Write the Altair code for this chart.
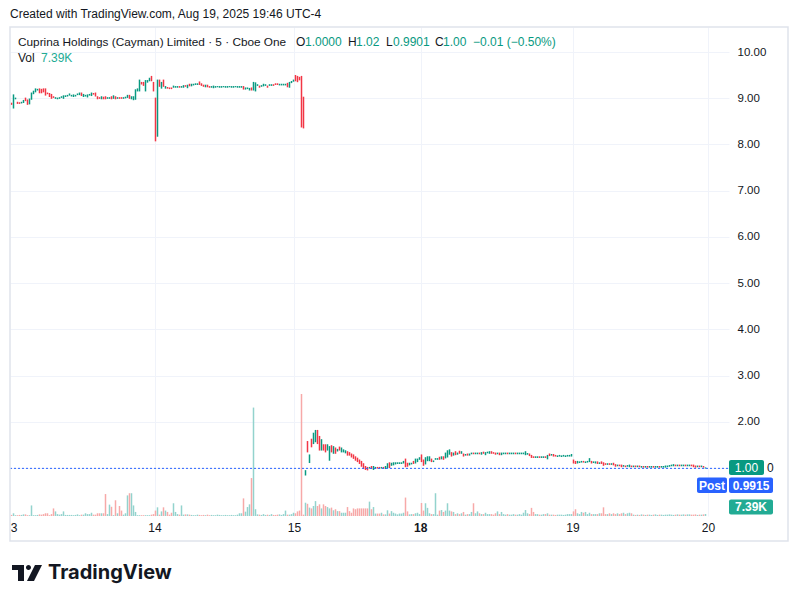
import altair as alt
import pandas as pd

# ---------------- data (5-minute bars) ----------------
# Aug 13
O13 = [8.89, 8.79, 8.99, 8.91, 8.90, 8.90, 8.91, 9.00, 8.96, 8.88,
       8.98, 9.10, 9.14, 9.18, 9.20, 9.19, 9.20, 9.20, 9.11, 9.10,
       9.08, 9.03, 9.00, 8.99, 9.00, 9.02, 9.00, 9.04, 9.05, 9.07,
       9.05, 9.04, 9.05, 9.08, 9.08, 9.11, 9.04, 9.05, 9.03, 9.07,
       9.06, 9.10, 9.11, 9.03, 9.01, 8.99, 9.02, 9.03, 9.00, 9.00,
       9.03, 9.00, 9.03, 9.00, 9.01, 9.01, 9.00, 9.01, 9.02, 9.06,
       8.99, 8.97, 8.98, 9.16, 9.16, 9.34, 9.34, 9.16, 9.35, 9.38,
       9.47, 9.34]
C13 = [8.87, 9.07, 9.00, 8.89, 8.89, 8.91, 8.95, 8.95, 8.87, 8.98,
       9.11, 9.15, 9.20, 9.19, 9.12, 9.12, 9.14, 9.07, 9.10, 9.04,
       9.00, 9.02, 9.01, 9.00, 9.01, 9.03, 9.05, 9.05, 9.06, 9.09,
       9.06, 9.07, 9.06, 9.09, 9.11, 9.06, 9.08, 9.06, 9.07, 9.08,
       9.11, 9.09, 9.05, 8.99, 9.00, 9.03, 8.99, 8.99, 9.01, 9.01,
       8.99, 9.05, 8.99, 9.01, 9.00, 9.00, 9.01, 9.02, 9.06, 9.00,
       9.03, 9.03, 9.18, 9.20, 9.39, 9.31, 9.28, 9.38, 9.38, 9.43,
       9.38, 9.16]
V13 = [4, 10, 3, 3, 4, 4, 6, 6, 3, 3,
       39, 3, 3, 4, 6, 5, 7, 10, 10, 3,
       7, 28, 17, 7, 5, 7, 17, 4, 4, 4,
       4, 3, 4, 6, 3, 5, 5, 10, 7, 7,
       12, 5, 5, 10, 10, 10, 10, 81, 7, 42,
       34, 3, 58, 10, 37, 20, 5, 10, 76, 84,
       84, 39, 15, 3, 3, 3, 3, 3, 3, 3,
       5, 7]

# Aug 14
O14 = [9.00, 8.18, 9.39, 9.22, 9.39, 9.22, 9.23, 9.22, 9.22, 9.24,
       9.24, 9.24, 9.25, 9.24, 9.24, 9.27, 9.23, 9.30, 9.27, 9.29,
       9.30, 9.30, 9.35, 9.31, 9.28, 9.25, 9.28, 9.25, 9.24, 9.23,
       9.24, 9.25, 9.24, 9.24, 9.25, 9.24, 9.24, 9.25, 9.24, 9.24,
       9.25, 9.24, 9.24, 9.24, 9.25, 9.20, 9.21, 9.18, 9.22, 9.18,
       9.16, 9.28, 9.26, 9.26, 9.27, 9.28, 9.26, 9.28, 9.28, 9.29,
       9.31, 9.31, 9.29, 9.29, 9.29, 9.29, 9.32, 9.24, 9.34, 9.37]
C14 = [8.08, 9.39, 9.26, 9.34, 9.26, 9.25, 9.22, 9.21, 9.21, 9.26,
       9.25, 9.25, 9.24, 9.25, 9.27, 9.26, 9.28, 9.27, 9.30, 9.30,
       9.31, 9.31, 9.30, 9.28, 9.26, 9.28, 9.25, 9.24, 9.25, 9.26,
       9.25, 9.25, 9.25, 9.25, 9.25, 9.25, 9.25, 9.25, 9.25, 9.25,
       9.25, 9.25, 9.25, 9.25, 9.20, 9.22, 9.22, 9.21, 9.18, 9.34,
       9.33, 9.29, 9.24, 9.27, 9.30, 9.29, 9.24, 9.29, 9.29, 9.28,
       9.30, 9.30, 9.30, 9.30, 9.30, 9.30, 9.25, 9.34, 9.36, 9.39]
V14 = [20, 32, 5, 17, 32, 20, 15, 5, 12, 47,
       15, 7, 5, 39, 5, 6, 6, 5, 4, 3,
       3, 5, 4, 3, 4, 3, 5, 3, 4, 3,
       3, 5, 4, 3, 3, 4, 3, 3, 4, 3,
       3, 5, 10, 10, 65, 16, 33, 43, 140, 400,
       25, 6, 5, 4, 7, 4, 5, 4, 7, 4,
       4, 5, 6, 4, 7, 20, 5, 5, 7, 12]

# Aug 15
O15 = [9.49, 9.47, 9.45, 9.47, 9.02, 0.85, 1.57, 1.12, 1.62, 1.53,
       1.57, 1.81, 1.68, 1.39, 1.50, 1.50, 1.39, 1.17, 1.48, 1.32,
       1.43, 1.37, 1.45, 1.35, 1.35, 1.33, 1.35, 1.33, 1.30, 1.28,
       1.24, 1.21, 1.17, 1.14, 1.09, 1.03, 1.01, 1.00, 1.03, 0.97,
       1.00, 1.01, 1.01, 1.00, 1.01, 0.99, 1.01, 1.11, 1.06, 1.07,
       1.09, 1.10, 1.10, 1.10, 1.11, 1.19, 1.10, 1.07, 1.09, 1.14,
       1.11, 1.14, 1.19]
C15 = [9.38, 9.36, 9.40, 8.38, 8.36, 0.94, 1.35, 1.28, 1.46, 1.75,
       1.81, 1.53, 1.39, 1.61, 1.39, 1.35, 1.50, 1.46, 1.35, 1.46,
       1.32, 1.40, 1.39, 1.43, 1.39, 1.37, 1.28, 1.28, 1.24, 1.21,
       1.17, 1.14, 1.10, 1.04, 0.99, 0.97, 0.96, 1.01, 0.99, 1.03,
       1.01, 1.00, 1.00, 1.01, 1.00, 1.03, 1.09, 1.01, 1.10, 1.11,
       1.11, 1.11, 1.11, 1.11, 1.14, 1.03, 1.04, 1.10, 1.10, 1.10,
       1.19, 1.19, 1.22]
V15 = [10, 17, 20, 450, 5, 49, 45, 31, 28, 37,
       55, 37, 43, 28, 43, 37, 33, 28, 31, 21,
       25, 18, 18, 12, 12, 12, 33, 18, 12, 28,
       25, 28, 28, 28, 28, 28, 28, 53, 25, 33,
       9, 9, 9, 12, 6, 6, 21, 9, 18, 12,
       9, 6, 9, 9, 12, 68, 17, 6, 7, 7,
       10, 12, 7]

# Aug 18
O18 = [1.28, 1.17, 1.09, 1.16, 1.16, 1.19, 1.14, 1.19, 1.19, 1.23,
       1.20, 1.24, 1.22, 1.24, 1.30, 1.33, 1.28, 1.35, 1.30, 1.36,
       1.32, 1.30, 1.28, 1.30, 1.28, 1.31, 1.32, 1.31, 1.31, 1.32,
       1.30, 1.34, 1.29, 1.33, 1.32, 1.35, 1.33, 1.32, 1.31, 1.32,
       1.29, 1.31, 1.31, 1.32, 1.31, 1.31, 1.31, 1.32, 1.31, 1.31,
       1.31, 1.31, 1.29, 1.30, 1.30, 1.27, 1.24, 1.23, 1.23, 1.24,
       1.23, 1.23, 1.24, 1.20, 1.30, 1.28, 1.29, 1.27, 1.25, 1.26,
       1.25, 1.26, 1.25, 1.26, 1.26, 1.26]
C18 = [1.14, 1.06, 1.22, 1.24, 1.24, 1.14, 1.15, 1.20, 1.20, 1.19,
       1.24, 1.19, 1.32, 1.37, 1.39, 1.26, 1.32, 1.29, 1.32, 1.32,
       1.35, 1.26, 1.29, 1.28, 1.30, 1.32, 1.31, 1.32, 1.32, 1.31,
       1.33, 1.32, 1.33, 1.34, 1.35, 1.32, 1.32, 1.30, 1.32, 1.29,
       1.32, 1.32, 1.32, 1.31, 1.32, 1.32, 1.32, 1.31, 1.32, 1.32,
       1.32, 1.32, 1.35, 1.31, 1.27, 1.23, 1.23, 1.24, 1.24, 1.23,
       1.24, 1.24, 1.23, 1.27, 1.27, 1.29, 1.26, 1.26, 1.26, 1.27,
       1.26, 1.27, 1.26, 1.27, 1.27, 1.29]
V18 = [48, 20, 47, 30, 10, 7, 7, 84, 5, 20,
       22, 15, 20, 47, 20, 17, 15, 7, 10, 7,
       10, 15, 5, 7, 7, 15, 47, 10, 17, 10,
       7, 7, 12, 7, 7, 7, 5, 10, 17, 7,
       15, 7, 5, 7, 5, 5, 7, 5, 5, 7,
       5, 12, 22, 10, 7, 30, 15, 7, 7, 5,
       5, 7, 7, 10, 5, 5, 5, 4, 5, 5,
       5, 4, 5, 7, 7, 7]

# Aug 19
O19 = [1.17, 1.14, 1.11, 1.12, 1.13, 1.14, 1.12, 1.13, 1.14, 1.14,
       1.12, 1.11, 1.13, 1.10, 1.13, 1.11, 1.09, 1.08, 1.09, 1.08,
       1.10, 1.07, 1.05, 1.06, 1.06, 1.04, 1.04, 1.04, 1.03, 1.04,
       1.03, 1.04, 1.03, 1.04, 1.02, 1.03, 1.02, 1.03, 1.02, 1.02,
       1.03, 1.02, 1.02, 1.03, 1.02, 1.02, 1.02, 1.03, 1.04, 1.05,
       1.05, 1.06, 1.05, 1.06, 1.05, 1.05, 1.06, 1.05, 1.05, 1.06,
       1.06, 1.04, 1.03, 1.04, 1.03, 1.03, 1.00]
C19 = [1.11, 1.10, 1.14, 1.13, 1.14, 1.13, 1.13, 1.14, 1.20, 1.11,
       1.13, 1.13, 1.10, 1.11, 1.10, 1.06, 1.08, 1.09, 1.08, 1.09,
       1.07, 1.04, 1.06, 1.05, 1.03, 1.05, 1.03, 1.05, 1.06, 1.03,
       1.04, 1.03, 1.04, 1.03, 1.03, 1.02, 1.03, 1.02, 1.03, 1.03,
       1.02, 1.03, 1.03, 1.02, 1.03, 1.03, 1.04, 1.04, 1.05, 1.06,
       1.07, 1.05, 1.06, 1.05, 1.06, 1.06, 1.05, 1.06, 1.06, 1.05,
       1.03, 1.02, 1.04, 1.03, 1.04, 1.02, 1.00]
V19 = [17, 25, 10, 7, 15, 12, 15, 7, 12, 7,
       7, 7, 7, 10, 10, 32, 7, 7, 10, 7,
       10, 7, 10, 7, 10, 12, 7, 10, 12, 10,
       5, 4, 5, 4, 6, 5, 4, 5, 5, 4,
       5, 6, 4, 5, 5, 4, 5, 5, 6, 5,
       4, 5, 6, 5, 5, 6, 5, 6, 6, 5,
       5, 6, 4, 5, 5, 6, 7.39]

DAY_POS = [1.5, 72, 141.7, 204.85, 281, 348.7]
DAY_LABELS = ["3", "14", "15", "18", "19", "20"]
DAY_BOLD = [False, False, False, True, False, False]
PRICE_TICKS = [1, 2, 3, 4, 5, 6, 7, 8, 9, 10]
POST_PRICE = 0.9915

# ---------------- build table ----------------
opens = O13 + O14 + O15 + O18 + O19
closes = C13 + C14 + C15 + C18 + C19
vols = V13 + V14 + V15 + V18 + V19
assert len(opens) == len(closes) == len(vols), (len(opens), len(closes), len(vols))
n = len(opens)
df = pd.DataFrame({"i": list(range(n)), "o": opens, "c": closes, "v": vols})
df["xc"] = df["i"] + 0.25
df["hi"] = df[["o", "c"]].max(axis=1)
df["lo"] = df[["o", "c"]].min(axis=1)
df["dir"] = ["up" if c >= o else "down" for o, c in zip(opens, closes)]
df["v0"] = 0.0

days = pd.DataFrame({"pos": DAY_POS, "label": DAY_LABELS, "bold": DAY_BOLD})

W, H = 719, 489
FONT = "Liberation Sans"
INK = "#131722"
UP, DOWN = "#089981", "#f23645"
VUP, VDOWN = "#93d3cd", "#f7a9a8"

XS = alt.Scale(domain=[-0.5, 359], nice=False, zero=False)
YS = alt.Scale(domain=[-0.039, 10.541], nice=False, zero=False)
VS = alt.Scale(domain=[0, 1804], nice=False, zero=True)

XAXIS = alt.Axis(values=DAY_POS[1:], labels=False, ticks=False, domain=False,
                 grid=True, gridColor="#f0f3fa", title=None)
YAXIS = alt.Axis(orient="right", values=PRICE_TICKS, domain=False,
                 labelExpr="datum.value == 1 ? '' : format(datum.value, '.2f')",
                 ticks=False, labelPadding=8, labelFontSize=11.5, labelColor=INK,
                 labelFont=FONT, grid=True, gridColor="#f0f3fa", title=None)


def vol_layer(d, color):
    return alt.Chart(df[df["dir"] == d]).mark_rule(strokeWidth=1.5).encode(
        x=alt.X("xc:Q", scale=XS, axis=XAXIS),
        y=alt.Y("v:Q", scale=VS, axis=None),
        y2="v0:Q",
        color=alt.value(color),
    )


def candle_layer(d, color):
    return alt.Chart(df[df["dir"] == d]).mark_rule(
        strokeWidth=1.5, yOffset=-0.6, y2Offset=0.6
    ).encode(
        x=alt.X("xc:Q", scale=XS, axis=XAXIS),
        y=alt.Y("hi:Q", scale=YS, axis=YAXIS),
        y2="lo:Q",
        color=alt.value(color),
    )


vol = alt.layer(vol_layer("up", VUP), vol_layer("down", VDOWN))

post_line = alt.Chart(pd.DataFrame({"p": [POST_PRICE]})).mark_rule(
    color="#2962ff", strokeDash=[2, 2], strokeWidth=1
).encode(y=alt.Y("p:Q", scale=YS, axis=YAXIS), x=alt.value(0), x2=alt.value(W))

day_norm = alt.Chart(days[~days["bold"]]).mark_text(
    font=FONT, fontSize=12, color=INK, baseline="middle", align="center"
).encode(x=alt.X("pos:Q", scale=XS, axis=XAXIS), y=alt.value(501), text="label:N")
day_bold = alt.Chart(days[days["bold"]]).mark_text(
    font=FONT, fontSize=12, color=INK, baseline="middle", align="center", fontWeight="bold"
).encode(x=alt.X("pos:Q", scale=XS, axis=XAXIS), y=alt.value(501), text="label:N")

ONE = pd.DataFrame({"k": [0]})


def txt(s, x, y, color=INK, size=12, weight="normal", align="left", font=FONT):
    return alt.Chart(ONE).mark_text(
        text=s, align=align, baseline="middle", fontSize=size, fontWeight=weight,
        color=color, font=font
    ).encode(x=alt.value(x), y=alt.value(y))


def box(x1, x2, y1, y2, color, r=2):
    return alt.Chart(ONE).mark_rect(color=color, cornerRadius=r).encode(
        x=alt.value(x1), x2=alt.value(x2), y=alt.value(y1), y2=alt.value(y2))


frame = alt.Chart(ONE).mark_rect(fillOpacity=0, stroke="#e0e3eb", strokeWidth=1.5).encode(
    x=alt.value(0), x2=alt.value(778), y=alt.value(0), y2=alt.value(514))

logo_path = ("M -1 -0.533 L -0.2 -0.533 L -0.2 0.533 L -0.6 0.533 L -0.6 -0.2 L -1 -0.2 Z "
             "M 0.267 -0.367 A 0.167 0.167 0 1 1 -0.067 -0.367 A 0.167 0.167 0 1 1 0.267 -0.367 Z "
             "M 0.533 -0.533 L 1 -0.533 L 0.467 0.533 L 0 0.533 Z")
logo = alt.Chart(ONE).mark_point(shape=logo_path, filled=True, color="#131722", size=900, opacity=1).encode(
    x=alt.value(17), y=alt.value(546))

TEAL = "#089981"
labels = [
    txt("Created with TradingView.com, Aug 19, 2025 19:46 UTC-4", 0, -13),
    txt("Cuprina Holdings (Cayman) Limited · 5 · Cboe One", 8, 15, size=11.8),
    txt("O", 286, 15), txt("1.0000", 295, 15, color=TEAL),
    txt("H", 338, 15), txt("1.02", 346, 15, color=TEAL),
    txt("L", 376, 15), txt("0.9901", 383, 15, color=TEAL),
    txt("C", 425, 15), txt("1.00", 433, 15, color=TEAL),
    txt("\u22120.01 (\u22120.50%)", 463, 15, color=TEAL),
    txt("Vol", 8, 31), txt("7.39K", 31, 31, color="#22ab94"),
    box(719, 754, 433, 448, TEAL), txt("1.00", 736.5, 440.5, color="white", align="center"),
    txt("0", 757, 440.5),
    box(687, 717, 450.5, 466, "#2962ff"), txt("Post", 702, 458.5, color="white", align="center", weight="bold"),
    box(719, 763, 450.5, 466, "#2962ff"), txt("0.9915", 741, 458.5, color="white", align="center", weight="bold"),
    box(719, 763, 472.5, 487.5, "#22ab94"), txt("7.39K", 741, 480, color="white", align="center", weight="bold"),
    logo,
    txt("TradingView", 38, 546, size=20, weight="bold", font="Inter"),
]

price = alt.layer(candle_layer("up", UP), candle_layer("down", DOWN), post_line,
                  day_norm, day_bold, frame, *labels)

chart = alt.layer(vol, price).resolve_scale(y="independent").properties(
    width=W, height=H,
    autosize=alt.AutoSizeParams(type="none"),
    padding={"left": 2, "top": 19, "right": 61, "bottom": 74},
    background="white",
).configure_view(stroke=None)

chart.save("out.html", embed_options={"renderer": "svg", "actions": False})
